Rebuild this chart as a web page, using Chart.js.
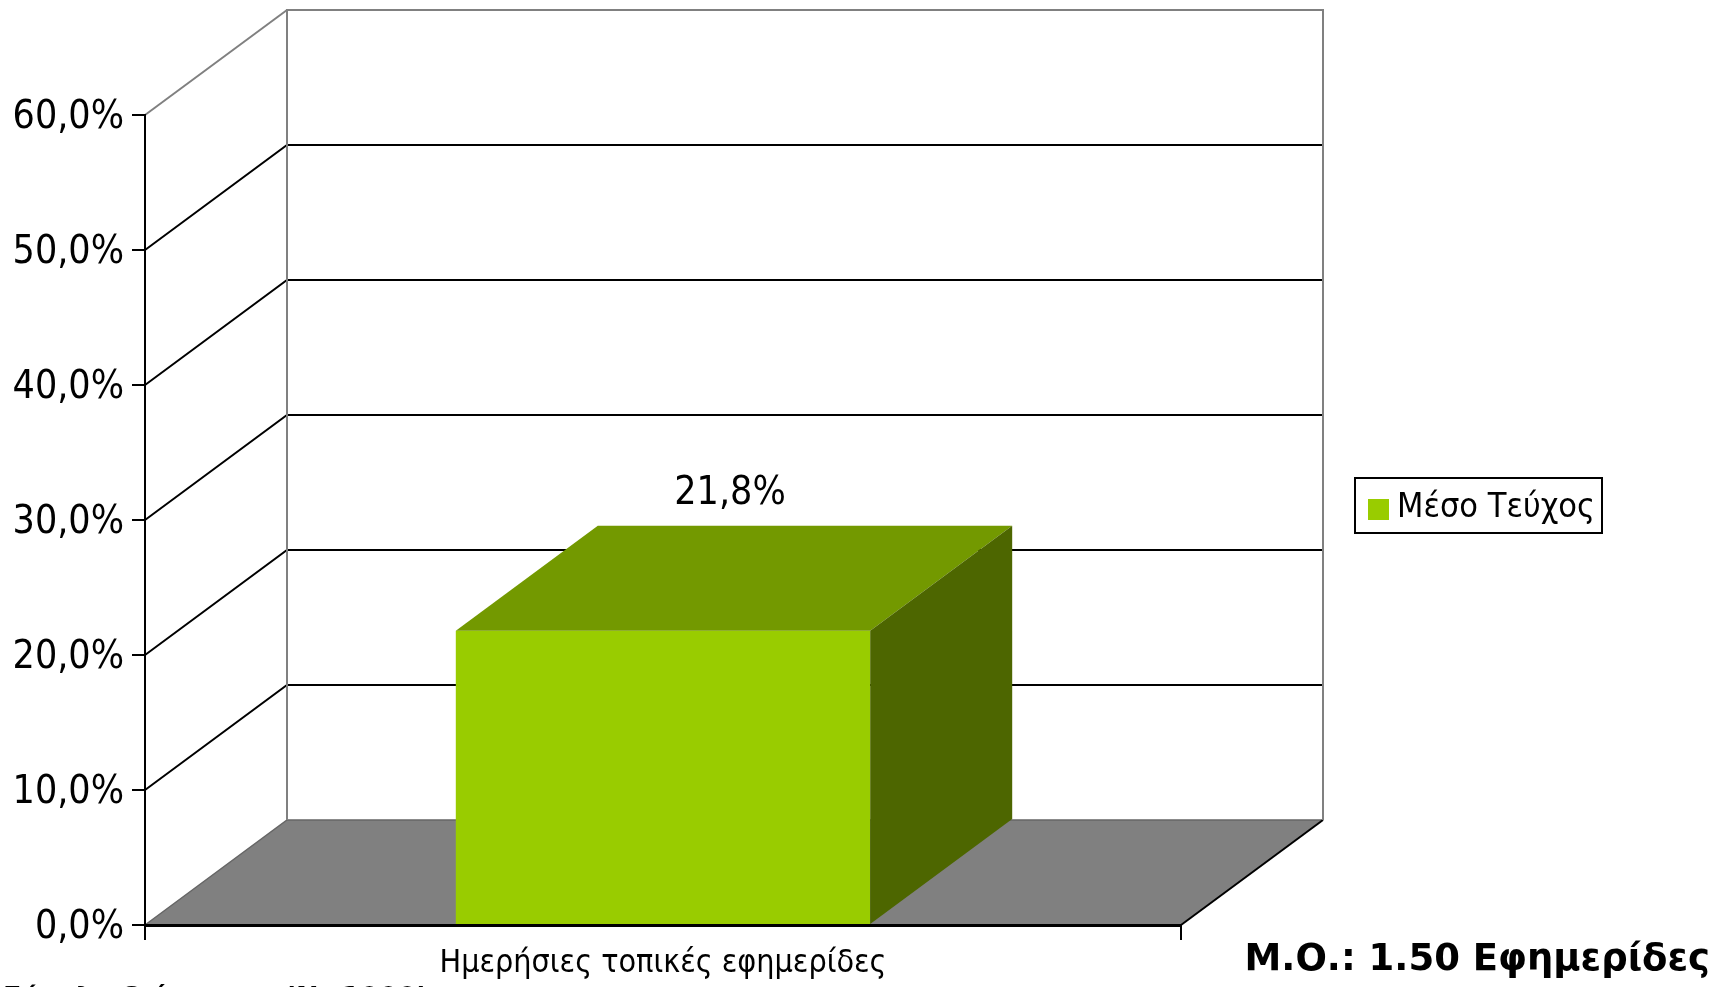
<!DOCTYPE html>
<html>
<head>
<meta charset="utf-8" />
<title>Μέσο Τεύχος</title>
<script src="https://cdn.jsdelivr.net/npm/chart.js@4.4.1/dist/chart.umd.min.js"></script>
<style>
  html, body { margin: 0; padding: 0; background: #fff; }
  .wrap { width: 1718px; height: 987px; position: relative; }
</style>
</head>
<body>
<div class="wrap"><canvas id="chart"></canvas></div>
<script>
// δεδομένα
var categories = ["Ημερήσιες τοπικές εφημερίδες"];
var seriesName = "Μέσο Τεύχος";
var values = [21.8];
var yMin = 0, yMax = 60, yStep = 10;
var avgNote = "Μ.Ο.: 1.50 Εφημερίδες";
var baseNote = "Σύνολο δείγματος (Ν=1000)";

var FONT = "'DejaVu Sans Condensed', 'DejaVu Sans', sans-serif";
var DX = 142, DY = 105; // βάθος 3D

function pct(v) {
  return Number(v).toFixed(1).replace(".", ",") + "%";
}

var box3d = {
  id: "box3d",
  beforeDraw: function (chart) {
    var ctx = chart.ctx, a = chart.chartArea, y = chart.scales.y;
    ctx.save();
    // δάπεδο
    ctx.beginPath();
    ctx.moveTo(a.left, a.bottom);
    ctx.lineTo(a.left + DX, a.bottom - DY);
    ctx.lineTo(a.right + DX, a.bottom - DY);
    ctx.lineTo(a.right, a.bottom);
    ctx.closePath();
    ctx.fillStyle = "#808080";
    ctx.fill();
    ctx.lineWidth = 1.5;
    ctx.strokeStyle = "#666";
    ctx.beginPath();
    ctx.moveTo(a.left, a.bottom);
    ctx.lineTo(a.left + DX, a.bottom - DY);
    ctx.lineTo(a.right + DX, a.bottom - DY);
    ctx.stroke();
    ctx.strokeStyle = "#000";
    ctx.lineWidth = 2;
    ctx.beginPath();
    ctx.moveTo(a.right + DX, a.bottom - DY);
    ctx.lineTo(a.right, a.bottom);
    ctx.stroke();

    // γραμμές πλέγματος (πλάγιος και πίσω τοίχος)
    y.ticks.forEach(function (t) {
      if (t.value === yMin) return;
      var py = y.getPixelForValue(t.value);
      ctx.lineWidth = 2;
      ctx.strokeStyle = t.value === yMax ? "#808080" : "#000";
      ctx.beginPath();
      ctx.moveTo(a.left, py);
      ctx.lineTo(a.left + DX, py - DY);
      if (t.value !== yMax) ctx.lineTo(a.right + DX, py - DY);
      ctx.stroke();
    });

    // πλαίσιο πίσω τοίχου
    ctx.strokeStyle = "#808080";
    ctx.lineWidth = 2;
    ctx.beginPath();
    ctx.moveTo(a.left + DX, a.bottom - DY);
    ctx.lineTo(a.left + DX, a.top - DY);
    ctx.lineTo(a.right + DX, a.top - DY);
    ctx.lineTo(a.right + DX, a.bottom - DY);
    ctx.stroke();
    ctx.restore();
  },
  afterDatasetsDraw: function (chart) {
    var ctx = chart.ctx;
    var meta = chart.getDatasetMeta(0);
    ctx.save();
    meta.data.forEach(function (bar, i) {
      var l = bar.x - bar.width / 2, r = bar.x + bar.width / 2;
      var top = bar.y, base = bar.base;
      // πάνω πλευρά
      ctx.fillStyle = "#739900";
      ctx.beginPath();
      ctx.moveTo(l, top);
      ctx.lineTo(l + DX, top - DY);
      ctx.lineTo(r + DX, top - DY);
      ctx.lineTo(r, top);
      ctx.closePath();
      ctx.fill();
      // δεξιά πλευρά
      ctx.fillStyle = "#4d6600";
      ctx.beginPath();
      ctx.moveTo(r, top);
      ctx.lineTo(r + DX, top - DY);
      ctx.lineTo(r + DX, base - DY);
      ctx.lineTo(r, base);
      ctx.closePath();
      ctx.fill();
      // ετικέτα τιμής
      ctx.fillStyle = "#000";
      ctx.font = "39px " + FONT;
      ctx.textAlign = "center";
      ctx.textBaseline = "alphabetic";
      ctx.fillText(pct(chart.data.datasets[0].data[i]), bar.x + DX / 2 - 4, top - DY - 22);
    });
    ctx.restore();
  },
  afterDraw: function (chart) {
    var ctx = chart.ctx;
    var ds = chart.data.datasets[0];
    ctx.save();
    // υπόμνημα
    ctx.strokeStyle = "#000";
    ctx.lineWidth = 2;
    ctx.strokeRect(1355, 478, 247, 55);
    ctx.fillStyle = ds.backgroundColor;
    ctx.fillRect(1368, 499, 21, 21);
    ctx.fillStyle = "#000";
    ctx.font = "34px " + FONT;
    ctx.textAlign = "left";
    ctx.textBaseline = "middle";
    ctx.fillText(ds.label, 1397, 508);
    // σημειώσεις
    ctx.font = "bold 37px 'DejaVu Sans', sans-serif";
    ctx.textBaseline = "alphabetic";
    ctx.textAlign = "right";
    ctx.fillText(avgNote, 1710, 970);
    ctx.textAlign = "left";
    ctx.font = "bold 27px 'DejaVu Sans', sans-serif";
    ctx.fillText(baseNote, 3, 1006);
    ctx.restore();
  }
};

Chart.defaults.font.family = FONT;
Chart.defaults.color = "#000";

new Chart(document.getElementById("chart"), {
  type: "bar",
  data: {
    labels: categories,
    datasets: [{
      label: seriesName,
      data: values,
      backgroundColor: "#99cc00",
      borderWidth: 0,
      barPercentage: 0.8,
      categoryPercentage: 0.5
    }]
  },
  options: {
    responsive: true,
    maintainAspectRatio: false,
    animation: false,
    layout: { padding: { left: 0, top: 115, right: 537, bottom: 0 } },
    plugins: {
      legend: { display: false },
      tooltip: { enabled: false }
    },
    scales: {
      x: {
        grid: { drawOnChartArea: false, color: "#000", tickLength: 15, lineWidth: 2 },
        border: { color: "#000", width: 3 },
        ticks: { font: { size: 32 }, color: "#000", padding: 4 },
        afterFit: function (s) { s.height = 62; }
      },
      y: {
        min: yMin,
        max: yMax,
        grid: { drawOnChartArea: false, color: "#000", tickLength: 13, lineWidth: 2 },
        border: { color: "#000", width: 2 },
        ticks: {
          stepSize: yStep,
          font: { size: 39 },
          color: "#000",
          padding: 8,
          labelOffset: 3,
          callback: function (v) { return pct(v); }
        },
        afterFit: function (s) { s.width = 145; }
      }
    }
  },
  plugins: [box3d]
});
</script>
</body>
</html>
